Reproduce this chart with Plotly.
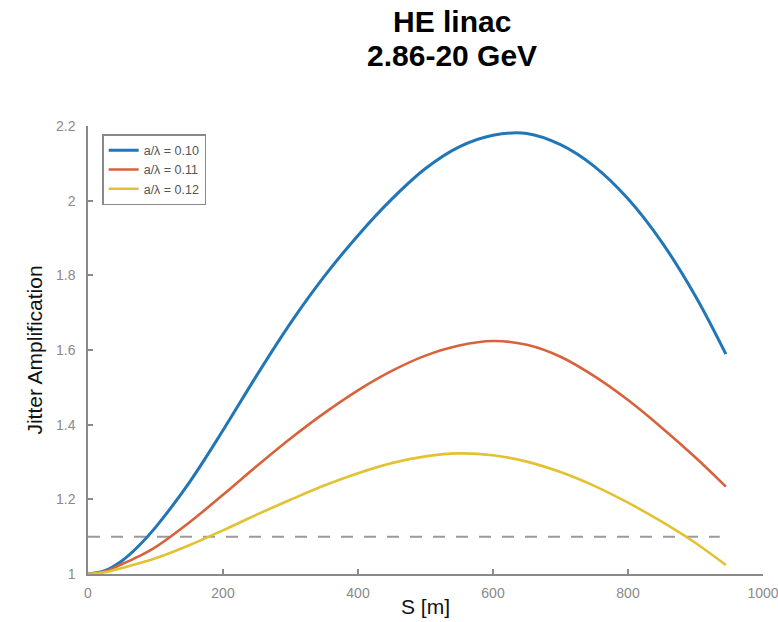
import plotly.graph_objects as go

# Data
s_blue = [0, 25, 50, 75, 100, 150, 200, 250, 300, 350, 400, 450, 500, 550, 600, 650, 700, 750, 800, 850, 900, 945]
amp_blue = [1.0, 1.009, 1.035, 1.075, 1.125, 1.245, 1.385, 1.532, 1.672, 1.797, 1.907, 2.004, 2.086, 2.144, 2.175, 2.180, 2.150, 2.092, 2.005, 1.889, 1.744, 1.589]

s_red = [0, 25, 50, 75, 100, 150, 200, 250, 300, 350, 400, 450, 500, 550, 600, 650, 700, 750, 800, 850, 900, 945]
amp_red = [1.0, 1.007, 1.026, 1.047, 1.072, 1.138, 1.212, 1.289, 1.363, 1.431, 1.492, 1.544, 1.585, 1.612, 1.624, 1.614, 1.582, 1.530, 1.466, 1.392, 1.312, 1.234]

s_yellow = [0, 25, 50, 100, 150, 200, 250, 300, 350, 400, 450, 500, 550, 600, 650, 700, 750, 800, 850, 900, 945]
amp_yellow = [1.0, 1.005, 1.016, 1.042, 1.077, 1.117, 1.159, 1.199, 1.237, 1.270, 1.297, 1.315, 1.323, 1.318, 1.301, 1.273, 1.236, 1.191, 1.140, 1.083, 1.024]

threshold_s = [0, 936]
threshold_amp = [1.1, 1.1]

series_names = ["a/λ = 0.10", "a/λ = 0.11", "a/λ = 0.12"]
x_ticks = [0, 200, 400, 600, 800, 1000]
y_ticks = [1, 1.2, 1.4, 1.6, 1.8, 2, 2.2]
y_tick_labels = ["1", "1.2", "1.4", "1.6", "1.8", "2", "2.2"]

colors = ["#2176B8", "#D8623C", "#E2C232"]
font_family = "Liberation Sans, Arial, Helvetica, sans-serif"

fig = go.Figure()
fig.add_trace(go.Scatter(x=threshold_s, y=threshold_amp, mode="lines",
                         line=dict(color="#9a9a9a", width=2, dash="12px,11px"),
                         showlegend=False, hoverinfo="skip"))
for xs, ys, name, col, w in [(s_blue, amp_blue, series_names[0], colors[0], 3),
                             (s_red, amp_red, series_names[1], colors[1], 2.6),
                             (s_yellow, amp_yellow, series_names[2], colors[2], 2.6)]:
    fig.add_trace(go.Scatter(x=xs, y=ys, mode="lines", name=name,
                             line=dict(color=col, width=w, shape="spline", smoothing=1.0)))

axis_common = dict(showline=True, linecolor="#8a8a8a", linewidth=1.5,
                   ticks="inside", ticklen=5, tickcolor="#8a8a8a", tickwidth=1.5,
                   showgrid=False, zeroline=False, mirror=False, automargin=False,
                   ticklabeloverflow="allow",
                   tickfont=dict(family=font_family, size=14, color="#8a8a8a"))

fig.update_layout(
    width=778, height=622,
    margin=dict(l=88, r=15, t=126, b=48),
    paper_bgcolor="white", plot_bgcolor="white",
    font=dict(family=font_family),
    xaxis=dict(range=[0, 1000], tickvals=x_ticks,
               title=dict(text="S [m]", font=dict(size=21, color="#111"), standoff=0),
               ticklabelstandoff=5, **axis_common),
    yaxis=dict(range=[1, 2.2], tickvals=y_ticks, ticktext=y_tick_labels,
               title=dict(text="Jitter Amplification", font=dict(size=21, color="#111"), standoff=8),
               ticklabelstandoff=8, **axis_common),
    legend=dict(x=0.021, y=0.982, xanchor="left", yanchor="top",
                bordercolor="#8a8a8a", borderwidth=1.5, bgcolor="white",
                font=dict(family=font_family, size=12.5, color="#555"),
                tracegroupgap=0, itemwidth=30),
    showlegend=True,
    annotations=[
        dict(text="<b>HE linac</b>", x=0.539, y=1.234, xref="paper", yref="paper",
             xanchor="center", yanchor="middle", showarrow=False,
             font=dict(family=font_family, size=30, color="black")),
        dict(text="<b>2.86-20 GeV</b>", x=0.539, y=1.157, xref="paper", yref="paper",
             xanchor="center", yanchor="middle", showarrow=False,
             font=dict(family=font_family, size=30, color="black")),
    ],
)

fig.write_html("out.html")
